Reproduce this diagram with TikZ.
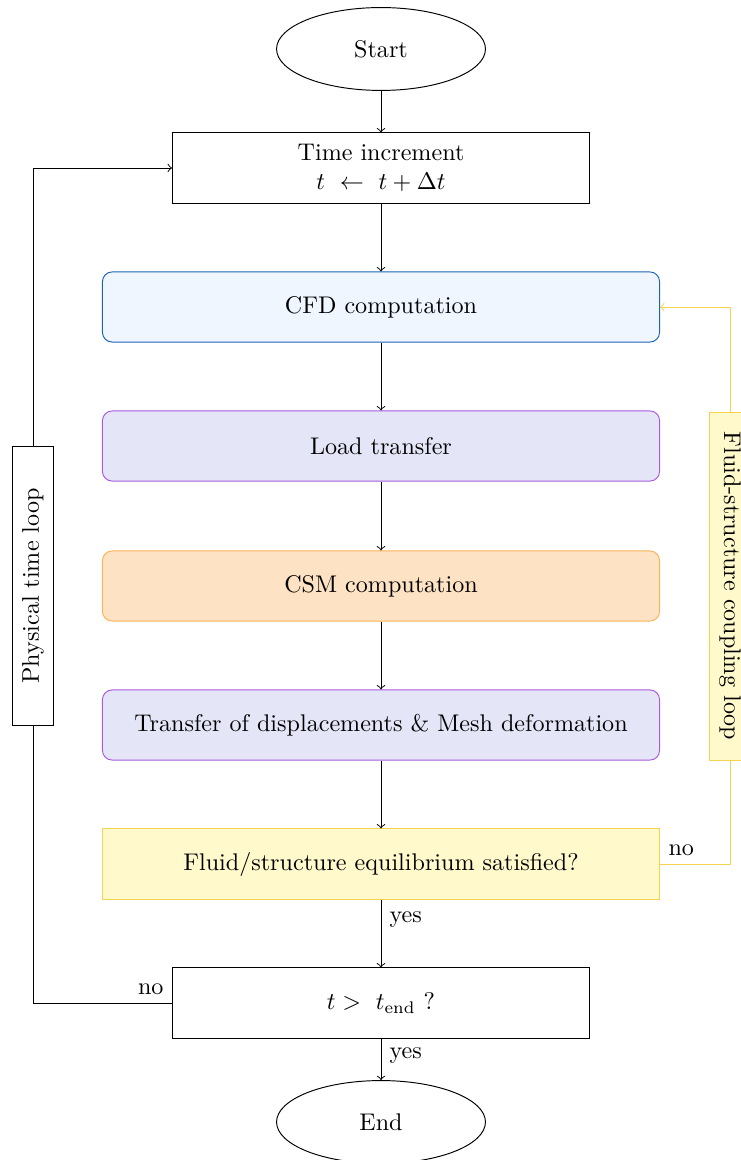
\documentclass[tikz,border=0pt]{standalone}
\usepackage{amsmath,amssymb}
\usepackage{xcolor}
\usepackage{tikz}
\usetikzlibrary{shapes,arrows,positioning,calc}

\definecolor{cfdfill}{RGB}{239,246,255}
\definecolor{cfddraw}{RGB}{30,100,180}
\definecolor{xferfill}{RGB}{229,229,248}
\definecolor{xferdraw}{RGB}{170,90,220}
\definecolor{csmfill}{RGB}{254,226,196}
\definecolor{csmdraw}{RGB}{250,180,90}
\definecolor{eqfill}{RGB}{255,249,204}
\definecolor{eqdraw}{RGB}{245,210,80}

\begin{document}
\begin{tikzpicture}[x=0.415pt,y=-0.415pt,
  terminal/.style={ellipse,draw,minimum width=86.7pt,minimum height=34.4pt,inner sep=0pt},
  plainbox/.style={rectangle,draw,minimum width=173.1pt,minimum height=29.1pt,align=center},
  widebox/.style={rectangle,rounded corners=4pt,minimum width=231.2pt,minimum height=29.1pt},
  loopbox/.style={rectangle,draw,minimum height=17.4pt,inner sep=2pt},
  flow/.style={->}]
\useasboundingbox (0,0) rectangle (740,1160);

% Main chain
\node[terminal] (start) at (381,49) {Start};
\node[plainbox] (timeinc) at (381,168) {Time increment\\ $t\ \leftarrow\ t+\Delta t$};
\node[widebox,draw=cfddraw,fill=cfdfill] (cfd) at (381,307) {CFD computation};
\node[widebox,draw=xferdraw,fill=xferfill] (load) at (381,446) {Load transfer};
\node[widebox,draw=csmdraw,fill=csmfill] (csm) at (381,586) {CSM computation};
\node[widebox,draw=xferdraw,fill=xferfill] (mesh) at (381,725) {Transfer of displacements \& Mesh deformation};
\node[widebox,rounded corners=0pt,draw=eqdraw,fill=eqfill] (equil) at (381,864) {Fluid/structure equilibrium satisfied?};
\node[plainbox] (tend) at (381,1003) {$t >\ t_{\text{end}}$ ?};
\node[terminal] (end) at (381,1122) {End};

\draw[flow] (start) -- (timeinc);
\draw[flow] (timeinc) -- (cfd);
\draw[flow] (cfd) -- (load);
\draw[flow] (load) -- (csm);
\draw[flow] (csm) -- (mesh);
\draw[flow] (mesh) -- (equil);
\draw[flow] (equil) -- node[right,pos=0.3]{yes} (tend);
\draw[flow] (tend) -- node[right,pos=0.4]{yes} (end);

% Physical time loop
\node[loopbox,rotate=90,minimum width=115.4pt] (physloop) at (33,586) {Physical time loop};
\draw (tend.west) -| (physloop.west);
\draw[flow] (physloop.east) |- (timeinc.west);
\node[above left] (tno) at (tend.west) {no};

% Coupling loop
\node[loopbox,rotate=-90,minimum width=144.4pt,draw=eqdraw,fill=eqfill] (couploop) at (730,586) {Fluid-structure coupling loop};
\draw[eqdraw] (equil.east) -| (couploop.east);
\draw[flow,eqdraw] (couploop.west) |- (cfd.east);
\node[above right] (eqno) at (equil.east) {no};
\end{tikzpicture}
\end{document}
